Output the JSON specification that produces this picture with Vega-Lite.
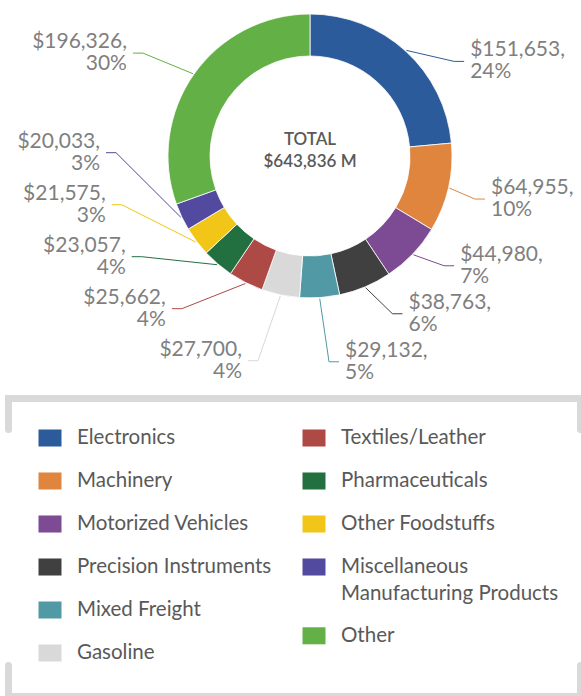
{
  "autosize": {"type": "none"},
  "padding": {"left": 8.5, "top": 398.5, "right": 0.5, "bottom": 0},
  "width": 572,
  "height": 298,
  "view": {"stroke": "#d9d9d9", "strokeWidth": 7, "strokeDash": [603, 236, 634, 236, 31], "strokeCap": "round"},
  "datasets": {
    "freight": [
      {"category": "Electronics", "value": 151653},
      {"category": "Machinery", "value": 64955},
      {"category": "Motorized Vehicles", "value": 44980},
      {"category": "Precision Instruments", "value": 38763},
      {"category": "Mixed Freight", "value": 29132},
      {"category": "Gasoline", "value": 27700},
      {"category": "Textiles/Leather", "value": 25662},
      {"category": "Pharmaceuticals", "value": 23057},
      {"category": "Other Foodstuffs", "value": 21575},
      {"category": "Miscellaneous Manufacturing Products", "value": 20033},
      {"category": "Other", "value": 196326}
    ]
  },
  "data": {"name": "freight"},
  "transform": [
    {"window": [{"op": "row_number", "as": "idx"}]},
    {"window": [{"op": "sum", "field": "value", "as": "cum"}], "sort": [{"field": "idx"}], "frame": [null, 0]},
    {"joinaggregate": [{"op": "sum", "field": "value", "as": "total"}]},
    {"calculate": "(datum.cum - datum.value) / datum.total", "as": "t0"},
    {"calculate": "datum.cum / datum.total", "as": "t1"},
    {"calculate": "2 * PI * (datum.cum - datum.value / 2) / datum.total", "as": "mid"},
    {"calculate": "sin(datum.mid) >= 0 ? 1 : -1", "as": "side"},
    {"calculate": "datum.side > 0 ? 143 : 198", "as": "R"},
    {"calculate": "datum.side > 0 ? 48 : 52", "as": "gap"},
    {"calculate": "min(datum.R * cos(datum.mid), 115)", "as": "y0"},
    {"window": [{"op": "row_number", "as": "k"}], "groupby": ["side"], "sort": [{"field": "idx"}]},
    {"calculate": "datum.y0 + datum.side * datum.k * datum.gap", "as": "a"},
    {"window": [{"op": "min", "field": "a", "as": "amin"}, {"op": "max", "field": "a", "as": "amax"}], "groupby": ["side"], "sort": [{"field": "idx"}], "frame": [null, 0]},
    {"calculate": "datum.side > 0 ? datum.amin - datum.k * datum.gap : datum.amax + datum.k * datum.gap", "as": "ly"},
    {"calculate": "datum.ly - 11", "as": "lc"},
    {"calculate": "datum.side > 0 ? max(sqrt(max(186 * 186 - datum.lc * datum.lc, 0)), 35) : -max(sqrt(max(210 * 210 - datum.lc * datum.lc, 0)), 68)", "as": "lx"},
    {"calculate": "143 * sin(datum.mid)", "as": "px0"},
    {"calculate": "143 * cos(datum.mid)", "as": "py0"},
    {"calculate": "datum.lx - datum.side * 16", "as": "ex"},
    {"calculate": "datum.lx - datum.side * 6", "as": "tx"},
    {"calculate": "0", "as": "c0"},
    {"calculate": "format(datum.value, '$,') + ',\\n' + format(datum.value / datum.total, '.0%')", "as": "lab"}
  ],
  "layer": [
    {
      "mark": {"type": "arc", "radius": 142, "radius2": 100, "stroke": "#ffffff", "strokeWidth": 0.8},
      "encoding": {
        "x": {"field": "c0", "type": "quantitative", "scale": {"domain": [-301.5, 270.5], "nice": false, "zero": false}, "axis": null},
        "y": {"field": "c0", "type": "quantitative", "scale": {"domain": [-540.5, -242.5], "nice": false, "zero": false}, "axis": null},
        "theta": {"field": "t0", "type": "quantitative", "scale": {"domain": [0, 1]}},
        "theta2": {"field": "t1"},
        "color": {
          "field": "category", "type": "nominal", "legend": null,
          "scale": {
            "domain": ["Electronics", "Machinery", "Motorized Vehicles", "Precision Instruments", "Mixed Freight", "Gasoline", "Textiles/Leather", "Pharmaceuticals", "Other Foodstuffs", "Miscellaneous Manufacturing Products", "Other"],
            "range": ["#2c5b9c", "#e0853e", "#7d4a94", "#404040", "#5199a4", "#d9d9d9", "#ad4a45", "#22703f", "#f2c618", "#514a9e", "#63b046"]
          }
        }
      }
    },
    {
      "mark": {"type": "rule", "strokeWidth": 1},
      "encoding": {
        "x": {"field": "px0", "type": "quantitative", "axis": null},
        "y": {"field": "py0", "type": "quantitative", "axis": null},
        "x2": {"field": "ex"},
        "y2": {"field": "lc"},
        "color": {"field": "category", "type": "nominal", "legend": null}
      }
    },
    {
      "mark": {"type": "rule", "strokeWidth": 1},
      "encoding": {
        "x": {"field": "ex", "type": "quantitative", "axis": null},
        "y": {"field": "lc", "type": "quantitative", "axis": null},
        "x2": {"field": "tx"},
        "y2": {"field": "lc"},
        "color": {"field": "category", "type": "nominal", "legend": null}
      }
    },
    {
      "transform": [{"filter": "datum.side > 0"}],
      "mark": {"type": "text", "align": "left", "baseline": "middle", "lineBreak": "\n", "lineHeight": 22, "font": "Lato", "fontSize": 21, "color": "#7f7f7f"},
      "encoding": {
        "x": {"field": "lx", "type": "quantitative", "axis": null},
        "y": {"field": "ly", "type": "quantitative", "axis": null},
        "text": {"field": "lab"}
      }
    },
    {
      "transform": [{"filter": "datum.side < 0"}],
      "mark": {"type": "text", "align": "right", "baseline": "middle", "lineBreak": "\n", "lineHeight": 22, "font": "Lato", "fontSize": 21, "color": "#7f7f7f"},
      "encoding": {
        "x": {"field": "lx", "type": "quantitative", "axis": null},
        "y": {"field": "ly", "type": "quantitative", "axis": null},
        "text": {"field": "lab"}
      }
    },
    {
      "transform": [
        {"filter": "datum.idx == 1"},
        {"calculate": "'TOTAL\\n' + format(datum.total, '$,') + ' M'", "as": "ctr"},
        {"calculate": "16", "as": "cy"}
      ],
      "mark": {"type": "text", "align": "center", "baseline": "middle", "lineBreak": "\n", "lineHeight": 22, "font": "Lato", "fontSize": 17, "fontWeight": 600, "color": "#595959"},
      "encoding": {
        "x": {"field": "c0", "type": "quantitative", "axis": null},
        "y": {"field": "cy", "type": "quantitative", "axis": null},
        "text": {"field": "ctr"}
      }
    },
    {
      "transform": [
        {"calculate": "datum.idx <= 6 ? 0 : 1", "as": "col"},
        {"calculate": "datum.idx - 1 - 6 * datum.col", "as": "r"},
        {"calculate": "length(datum.category) > 30 ? 1 : 0", "as": "extra"},
        {"window": [{"op": "sum", "field": "extra", "as": "cumExtra"}], "groupby": ["col"], "sort": [{"field": "idx"}], "frame": [null, 0]},
        {"calculate": "datum.r + 0.6 * (datum.cumExtra - datum.extra)", "as": "rowpos"},
        {"calculate": "datum.col == 0 ? -260 : 4", "as": "lgx"},
        {"calculate": "-282 - 43 * datum.rowpos", "as": "lgy"}
      ],
      "mark": {"type": "point", "shape": "M-1,-0.74H1V0.74H-1Z", "size": 529, "filled": true, "opacity": 1},
      "encoding": {
        "x": {"field": "lgx", "type": "quantitative", "axis": null},
        "y": {"field": "lgy", "type": "quantitative", "axis": null},
        "color": {"field": "category", "type": "nominal", "legend": null}
      }
    },
    {
      "transform": [
        {"calculate": "datum.idx <= 6 ? 0 : 1", "as": "col"},
        {"calculate": "datum.idx - 1 - 6 * datum.col", "as": "r"},
        {"calculate": "length(datum.category) > 30 ? 1 : 0", "as": "extra"},
        {"window": [{"op": "sum", "field": "extra", "as": "cumExtra"}], "groupby": ["col"], "sort": [{"field": "idx"}], "frame": [null, 0]},
        {"calculate": "datum.r + 0.6 * (datum.cumExtra - datum.extra)", "as": "rowpos"},
        {"calculate": "datum.col == 0 ? -260 : 4", "as": "lgx"},
        {"calculate": "-282 - 43 * datum.rowpos", "as": "lgy"},
        {"calculate": "length(datum.category) > 30 ? replace(datum.category, ' ', '\\n') : datum.category", "as": "leg"}
      ],
      "mark": {"type": "text", "align": "left", "baseline": "middle", "dx": 27, "lineBreak": "\n", "lineHeight": 27, "font": "Lato", "fontSize": 20.5, "color": "#595959"},
      "encoding": {
        "x": {"field": "lgx", "type": "quantitative", "axis": null},
        "y": {"field": "lgy", "type": "quantitative", "axis": null},
        "text": {"field": "leg"}
      }
    }
  ],
  "config": {"font": "Lato"}
}
